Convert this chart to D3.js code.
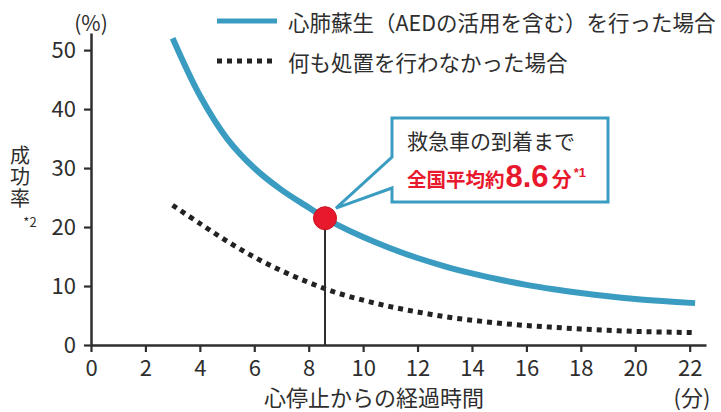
<!DOCTYPE html>
<html lang="ja">
<head>
<meta charset="utf-8">
<script src="https://cdn.jsdelivr.net/npm/d3@7"></script>
<style>
  html, body { margin: 0; padding: 0; background: #fff; }
  svg { display: block; font-family: "Noto Sans CJK JP", "Noto Sans", sans-serif; }
</style>
</head>
<body>
<svg id="chart" width="721" height="412"></svg>
<script>
// Minutes since cardiac arrest and resuscitation success rate (%)
const cprMinutes = [3, 4, 5, 6, 7, 8, 8.6, 9, 10, 11, 12, 13, 14, 15, 16, 17, 18, 19, 20, 21, 22.2];
const cprRates   = [52.0, 42.3, 35.0, 30.0, 26.3, 23.3, 21.5, 20.5, 18.3, 16.4, 14.75, 13.35, 12.15, 11.1, 10.2, 9.45, 8.8, 8.25, 7.8, 7.45, 7.1];
const noneMinutes = [3, 4, 5, 6, 7, 8, 9, 10, 11, 12, 13, 14, 15, 16, 17, 18, 19, 20, 21, 22.2];
const noneRates   = [23.7, 20.6, 17.6, 14.9, 12.6, 10.6, 8.9, 7.6, 6.5, 5.6, 4.8, 4.2, 3.7, 3.3, 3.0, 2.7, 2.5, 2.3, 2.2, 2.1];

const seriesNames = ["心肺蘇生（AEDの活用を含む）を行った場合", "何も処置を行わなかった場合"];
const xTicks = [0, 2, 4, 6, 8, 10, 12, 14, 16, 18, 20, 22];
const yTicks = [0, 10, 20, 30, 40, 50];

// Average ambulance arrival time
const arrivalMinutes = 8.6;
const arrivalRate = 21.5;

const BLUE = "#3b9cc1";
const RED = "#e8192c";
const INK = "#2e2e2e";

const svg = d3.select("#chart");

const x = d3.scaleLinear().domain([0, 22.6]).range([91, 706]);
const y = d3.scaleLinear().domain([0, 52.9]).range([345, 33]);

// Axes
const xAxis = svg.append("g")
  .attr("transform", `translate(0,${y(0)})`)
  .call(d3.axisBottom(x).tickValues(xTicks).tickSize(7).tickSizeOuter(0).tickPadding(8));
const yAxis = svg.append("g")
  .attr("transform", `translate(${x(0)},0)`)
  .call(d3.axisLeft(y).tickValues(yTicks).tickSize(7).tickSizeOuter(0).tickPadding(8));

[xAxis, yAxis].forEach(g => {
  g.select(".domain").attr("stroke", INK).attr("stroke-width", 2.5);
  g.selectAll(".tick line").attr("stroke", INK).attr("stroke-width", 2.2);
  g.selectAll(".tick text")
    .attr("fill", INK)
    .style("font-size", "22px")
    .style("font-family", "'Noto Sans CJK JP', sans-serif");
});

// Axis titles
svg.append("text").attr("x", x(0)).attr("y", 22)
  .attr("text-anchor", "middle").attr("dominant-baseline", "central")
  .attr("fill", INK).style("font-size", "21px").text("(%)");

// Vertical y-axis title
svg.append("text").attr("x", 20).attr("y", 145)
  .style("writing-mode", "vertical-rl")
  .style("letter-spacing", "1.5px")
  .attr("fill", INK).style("font-size", "20px").text("成功率");
svg.append("text").attr("x", 30).attr("y", 221)
  .attr("text-anchor", "middle").attr("dominant-baseline", "central")
  .attr("fill", INK).style("font-size", "13px").text("*2");

svg.append("text").attr("x", 374).attr("y", 395.5)
  .attr("text-anchor", "middle").attr("dominant-baseline", "central")
  .attr("fill", INK).style("font-size", "22px").text("心停止からの経過時間");
svg.append("text").attr("x", 692).attr("y", 395.5)
  .attr("text-anchor", "middle").attr("dominant-baseline", "central")
  .attr("fill", INK).style("font-size", "22px").text("(分)");

// Curves
const line = d3.line().x(d => x(d[0])).y(d => y(d[1])).curve(d3.curveCatmullRom.alpha(0.5));

svg.append("path")
  .datum(noneMinutes.map((m, i) => [m, noneRates[i]]))
  .attr("d", line)
  .attr("fill", "none").attr("stroke", "#222").attr("stroke-width", 5)
  .attr("stroke-dasharray", "5 5");

svg.append("path")
  .datum(cprMinutes.map((m, i) => [m, cprRates[i]]))
  .attr("d", line)
  .attr("fill", "none").attr("stroke", BLUE).attr("stroke-width", 6);

// Arrival-time marker
const mx = x(arrivalMinutes), my = y(arrivalRate);
svg.append("line")
  .attr("x1", mx).attr("x2", mx).attr("y1", my).attr("y2", y(0))
  .attr("stroke", INK).attr("stroke-width", 2);

// Callout box with pointer to the marker
const bx0 = 392, bx1 = 608, by0 = 118, by1 = 202;
const tipX = mx + 11, tipY = my - 10;
svg.append("path")
  .attr("d", `M${bx0},${by0} H${bx1} V${by1} H${bx0} V188 L${tipX},${tipY} L${bx0},157 Z`)
  .attr("fill", "#fff").attr("stroke", BLUE).attr("stroke-width", 3)
  .attr("stroke-linejoin", "miter");

svg.append("circle").attr("cx", mx).attr("cy", my).attr("r", 11.5)
  .attr("fill", RED).attr("stroke", "#c8101f").attr("stroke-width", 1);

svg.append("text").attr("x", 407).attr("y", 140)
  .attr("dominant-baseline", "central")
  .attr("fill", INK).style("font-size", "21px").text("救急車の到着まで");

const t2 = svg.append("text").attr("x", 407).attr("y", 187)
  .attr("fill", RED).style("font-weight", "700");
t2.append("tspan").style("font-size", "19.5px").text("全国平均約");
t2.append("tspan").style("font-size", "31px")
  .style("font-family", "'Liberation Sans', Arial, sans-serif")
  .attr("dx", 1).text(String(arrivalMinutes));
t2.append("tspan").style("font-size", "20px").attr("dx", 3).text("分");
t2.append("tspan").style("font-size", "13px")
  .style("font-family", "'Liberation Sans', Arial, sans-serif")
  .attr("dx", 2).attr("dy", -10).text("*1");

// Legend
const legend = svg.append("g");
legend.append("line").attr("x1", 217).attr("x2", 277).attr("y1", 21).attr("y2", 21)
  .attr("stroke", BLUE).attr("stroke-width", 5);
legend.append("line").attr("x1", 217).attr("x2", 277).attr("y1", 61).attr("y2", 61)
  .attr("stroke", "#222").attr("stroke-width", 5).attr("stroke-dasharray", "5 5");
legend.selectAll("text.item").data(seriesNames).join("text")
  .attr("class", "item")
  .attr("x", 288).attr("y", (d, i) => 21 + i * 40)
  .attr("dominant-baseline", "central")
  .attr("fill", INK).style("font-size", "21.5px").text(d => d);
</script>
</body>
</html>
